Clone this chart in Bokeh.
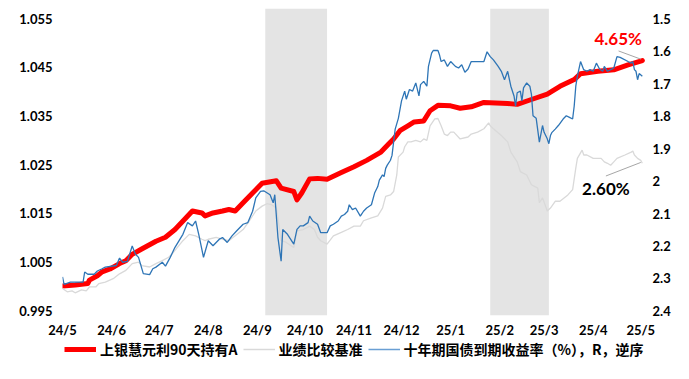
import pandas as pd
from bokeh.plotting import figure
from bokeh.layouts import column
from bokeh.models import (Range1d, LinearAxis, FixedTicker, NumeralTickFormatter,
                          BoxAnnotation, Legend, LegendItem, Label)
from bokeh.embed import file_html
from bokeh.resources import INLINE

# ---------------- data ----------------
series_names = ["上银慧元利90天持有A", "业绩比较基准", "十年期国债到期收益率（%），R，逆序"]

fund_dates = ["2024-05-01", "2024-05-09", "2024-05-17", "2024-05-18", "2024-05-23", "2024-05-26",
              "2024-05-31", "2024-06-06", "2024-06-10", "2024-06-14", "2024-06-20", "2024-06-29",
              "2024-07-05", "2024-07-11", "2024-07-18", "2024-07-22", "2024-07-28", "2024-07-30",
              "2024-08-04", "2024-08-10", "2024-08-14", "2024-08-18", "2024-08-23", "2024-08-29",
              "2024-09-04", "2024-09-13", "2024-09-16", "2024-09-24", "2024-09-26", "2024-09-29",
              "2024-10-04", "2024-10-09", "2024-10-15", "2024-10-24", "2024-11-01", "2024-11-09",
              "2024-11-18", "2024-11-23", "2024-11-26", "2024-11-30", "2024-12-05", "2024-12-09",
              "2024-12-15", "2024-12-19", "2024-12-24", "2025-01-01", "2025-01-07", "2025-01-14",
              "2025-01-22", "2025-02-06", "2025-02-12", "2025-02-21", "2025-03-03", "2025-03-11",
              "2025-03-20", "2025-03-24", "2025-04-04", "2025-04-14", "2025-04-23", "2025-05-02"]
fund_nav = [1.0001, 1.0003, 1.0006, 1.0013, 1.0022, 1.0030,
            1.0036, 1.0047, 1.0053, 1.0066, 1.0077, 1.0093,
            1.0101, 1.0117, 1.0141, 1.0155, 1.0151, 1.0145,
            1.0151, 1.0155, 1.0158, 1.0155, 1.0172, 1.0192,
            1.0212, 1.0217, 1.0202, 1.0195, 1.0178, 1.0192,
            1.0221, 1.0222, 1.0220, 1.0234, 1.0246, 1.0259,
            1.0276, 1.0293, 1.0303, 1.0320, 1.0330, 1.0338,
            1.0340, 1.0361, 1.0372, 1.0371, 1.0366, 1.0369,
            1.0378, 1.0376, 1.0374, 1.0384, 1.0395, 1.0411,
            1.0425, 1.0437, 1.0442, 1.0445, 1.0455, 1.0464]

bench_dates = ["2024-05-01", "2024-05-04", "2024-05-07", "2024-05-09", "2024-05-13", "2024-05-16",
               "2024-05-18", "2024-05-22", "2024-05-24", "2024-05-28", "2024-06-02", "2024-06-06",
               "2024-06-10", "2024-06-14", "2024-06-18", "2024-06-20", "2024-06-25", "2024-06-29",
               "2024-07-03", "2024-07-07", "2024-07-09", "2024-07-11", "2024-07-16", "2024-07-20",
               "2024-07-24", "2024-07-28", "2024-07-30", "2024-08-01", "2024-08-06", "2024-08-10",
               "2024-08-14", "2024-08-18", "2024-08-23", "2024-08-27", "2024-08-31", "2024-09-04",
               "2024-09-07", "2024-09-10", "2024-09-13", "2024-09-14", "2024-09-16", "2024-09-19",
               "2024-09-24", "2024-09-26", "2024-09-30", "2024-10-04", "2024-10-07", "2024-10-09",
               "2024-10-11", "2024-10-15", "2024-10-19", "2024-10-24", "2024-10-28", "2024-11-01",
               "2024-11-05", "2024-11-07", "2024-11-12", "2024-11-16", "2024-11-19", "2024-11-21",
               "2024-11-24", "2024-11-26", "2024-11-28", "2024-11-29", "2024-12-02", "2024-12-03",
               "2024-12-05", "2024-12-07", "2024-12-10", "2024-12-13", "2024-12-15", "2024-12-17",
               "2024-12-19", "2024-12-22", "2024-12-24", "2024-12-26", "2024-12-28", "2024-12-30",
               "2025-01-01", "2025-01-03", "2025-01-07", "2025-01-12", "2025-01-14", "2025-01-18",
               "2025-01-22", "2025-01-25", "2025-01-26", "2025-01-28", "2025-02-02", "2025-02-06",
               "2025-02-08", "2025-02-12", "2025-02-14", "2025-02-18", "2025-02-21", "2025-02-25",
               "2025-02-26", "2025-02-28", "2025-03-03", "2025-03-05", "2025-03-08", "2025-03-11",
               "2025-03-16", "2025-03-19", "2025-03-21", "2025-03-22", "2025-03-25", "2025-03-26",
               "2025-03-28", "2025-04-01", "2025-04-06", "2025-04-08", "2025-04-10", "2025-04-12",
               "2025-04-14", "2025-04-16", "2025-04-21", "2025-04-25", "2025-04-26", "2025-04-27",
               "2025-04-29", "2025-05-01", "2025-05-02"]
bench_vals = [0.9996, 0.9989, 0.9991, 0.9987, 0.9993, 0.9991,
              0.9999, 0.9999, 1.0006, 1.0009, 1.0016, 1.0026,
              1.0033, 1.0047, 1.0050, 1.0043, 1.0040, 1.0047,
              1.0053, 1.0060, 1.0066, 1.0074, 1.0094, 1.0107,
              1.0104, 1.0097, 1.0094, 1.0097, 1.0101, 1.0097,
              1.0094, 1.0104, 1.0117, 1.0135, 1.0155, 1.0165,
              1.0170, 1.0168, 1.0161, 1.0141, 1.0094, 1.0091,
              1.0080, 1.0114, 1.0117, 1.0124, 1.0117, 1.0101,
              1.0094, 1.0087, 1.0104, 1.0111, 1.0117, 1.0124,
              1.0124, 1.0135, 1.0141, 1.0145, 1.0161, 1.0185,
              1.0188, 1.0195, 1.0229, 1.0266, 1.0276, 1.0287,
              1.0297, 1.0297, 1.0300, 1.0297, 1.0303, 1.0300,
              1.0330, 1.0344, 1.0345, 1.0330, 1.0313, 1.0310,
              1.0317, 1.0317, 1.0303, 1.0307, 1.0313, 1.0317,
              1.0324, 1.0336, 1.0330, 1.0324, 1.0310, 1.0297,
              1.0276, 1.0256, 1.0236, 1.0229, 1.0209, 1.0202,
              1.0172, 1.0182, 1.0155, 1.0161, 1.0175, 1.0175,
              1.0188, 1.0199, 1.0243, 1.0263, 1.0280, 1.0270,
              1.0270, 1.0263, 1.0263, 1.0256, 1.0253, 1.0249,
              1.0256, 1.0263, 1.0270, 1.0276, 1.0278, 1.0270,
              1.0263, 1.0259, 1.0253]

bond_dates = ["2024-05-01", "2024-05-02", "2024-05-06", "2024-05-14", "2024-05-15", "2024-05-17",
              "2024-05-21", "2024-05-23", "2024-05-26", "2024-05-28", "2024-06-04", "2024-06-06",
              "2024-06-08", "2024-06-11", "2024-06-14", "2024-06-16", "2024-06-18", "2024-06-21",
              "2024-06-25", "2024-06-27", "2024-06-29", "2024-07-03", "2024-07-05", "2024-07-08",
              "2024-07-11", "2024-07-16", "2024-07-19", "2024-07-22", "2024-07-24", "2024-07-26",
              "2024-07-29", "2024-08-01", "2024-08-04", "2024-08-08", "2024-08-10", "2024-08-13",
              "2024-08-16", "2024-08-19", "2024-08-23", "2024-08-26", "2024-08-29", "2024-08-31",
              "2024-09-03", "2024-09-05", "2024-09-09", "2024-09-11", "2024-09-12", "2024-09-14",
              "2024-09-16", "2024-09-17", "2024-09-20", "2024-09-24", "2024-09-26", "2024-09-28",
              "2024-09-30", "2024-10-03", "2024-10-04", "2024-10-06", "2024-10-09", "2024-10-11",
              "2024-10-15", "2024-10-17", "2024-10-19", "2024-10-22", "2024-10-24", "2024-10-26",
              "2024-10-28", "2024-10-29", "2024-10-31", "2024-11-02", "2024-11-05", "2024-11-07",
              "2024-11-09", "2024-11-12", "2024-11-14", "2024-11-16", "2024-11-17", "2024-11-19",
              "2024-11-20", "2024-11-21", "2024-11-22", "2024-11-24", "2024-11-25", "2024-11-26",
              "2024-11-27", "2024-11-29", "2024-12-01", "2024-12-03", "2024-12-04", "2024-12-06",
              "2024-12-08", "2024-12-10", "2024-12-12", "2024-12-13", "2024-12-15", "2024-12-17",
              "2024-12-18", "2024-12-20", "2024-12-21", "2024-12-24", "2024-12-25", "2024-12-26",
              "2024-12-28", "2024-12-30", "2025-01-01", "2025-01-04", "2025-01-06", "2025-01-08",
              "2025-01-10", "2025-01-12", "2025-01-14", "2025-01-18", "2025-01-22", "2025-01-24",
              "2025-01-26", "2025-01-28", "2025-01-31", "2025-02-02", "2025-02-04", "2025-02-06",
              "2025-02-08", "2025-02-10", "2025-02-11", "2025-02-12", "2025-02-14", "2025-02-15",
              "2025-02-16", "2025-02-18", "2025-02-20", "2025-02-21", "2025-02-22", "2025-02-24",
              "2025-02-26", "2025-02-28", "2025-03-01", "2025-03-03", "2025-03-04", "2025-03-05",
              "2025-03-06", "2025-03-08", "2025-03-10", "2025-03-13", "2025-03-15", "2025-03-17",
              "2025-03-19", "2025-03-20", "2025-03-21", "2025-03-22", "2025-03-24", "2025-03-26",
              "2025-03-28", "2025-03-30", "2025-04-01", "2025-04-03", "2025-04-05", "2025-04-07",
              "2025-04-08", "2025-04-10", "2025-04-12", "2025-04-14", "2025-04-16", "2025-04-18",
              "2025-04-23", "2025-04-25", "2025-04-26", "2025-04-27", "2025-04-28", "2025-04-29",
              "2025-04-30", "2025-05-02"]
bond_yield = [2.295, 2.318, 2.311, 2.311, 2.280, 2.287,
              2.287, 2.277, 2.270, 2.265, 2.260, 2.237,
              2.250, 2.247, 2.200, 2.225, 2.235, 2.285,
              2.288, 2.270, 2.265, 2.250, 2.262, 2.235,
              2.204, 2.164, 2.128, 2.138, 2.123, 2.164,
              2.235, 2.184, 2.199, 2.179, 2.174, 2.189,
              2.169, 2.153, 2.133, 2.128, 2.093, 2.052,
              2.032, 2.030, 2.042, 2.067, 2.042, 2.174,
              2.247, 2.149, 2.164, 2.194, 2.149, 2.138,
              2.138, 2.128, 2.108, 2.123, 2.133, 2.159,
              2.159, 2.138, 2.133, 2.123, 2.108, 2.103,
              2.093, 2.073, 2.088, 2.083, 2.108, 2.093,
              2.083, 2.073, 2.037, 2.017, 1.997, 1.981,
              1.986, 1.961, 1.951, 1.936, 1.921, 1.880,
              1.840, 1.807, 1.753, 1.723, 1.748, 1.718,
              1.723, 1.698, 1.738, 1.703, 1.693, 1.708,
              1.647, 1.606, 1.598, 1.598, 1.612, 1.632,
              1.627, 1.647, 1.632, 1.647, 1.652, 1.642,
              1.665, 1.655, 1.632, 1.632, 1.632, 1.602,
              1.617, 1.627, 1.647, 1.662, 1.688, 1.662,
              1.708, 1.738, 1.769, 1.728, 1.723, 1.753,
              1.713, 1.698, 1.708, 1.733, 1.799, 1.807,
              1.880, 1.829, 1.850, 1.870, 1.885, 1.860,
              1.850, 1.840, 1.829, 1.809, 1.799, 1.804,
              1.809, 1.769, 1.708, 1.677, 1.632, 1.657,
              1.662, 1.657, 1.662, 1.637, 1.655, 1.662,
              1.647, 1.662, 1.657, 1.652, 1.617, 1.619,
              1.632, 1.637, 1.632, 1.657, 1.662, 1.688,
              1.669, 1.677]

month_ticks = ["2024-05-01", "2024-06-01", "2024-07-01", "2024-08-01", "2024-09-01", "2024-10-01",
               "2024-11-01", "2024-12-01", "2025-01-01", "2025-02-01", "2025-03-01", "2025-04-01",
               "2025-05-01"]
month_labels = ["24/5", "24/6", "24/7", "24/8", "24/9", "24/10", "24/11", "24/12",
                "25/1", "25/2", "25/3", "25/4", "25/5"]
left_ticks = [0.995, 1.005, 1.015, 1.025, 1.035, 1.045, 1.055]
right_ticks = [1.5, 1.6, 1.7, 1.8, 1.9, 2.0, 2.1, 2.2, 2.3, 2.4]
shade_periods = [("2024-09-06", "2024-10-15"), ("2025-01-26", "2025-03-04")]
end_labels = ["4.65%", "2.60%"]

# ---------------- styles ----------------
ts = pd.Timestamp
FONT = "Lato"
CJK = "Noto Sans CJK SC"
RED, GREY, BLUE = "#FF0000", "#D9D9D9", "#2E75B6"

# ---------------- main chart ----------------
p = figure(width=681, height=340, x_axis_type="datetime",
           x_range=Range1d(ts("2024-05-01"), ts("2025-05-04")),
           y_range=Range1d(0.99404, 1.05709),
           output_backend="svg", toolbar_location=None,
           min_border_left=62, min_border_right=36, min_border_top=8, min_border_bottom=21)
p.extra_y_ranges = {"r": Range1d(start=2.4140, end=1.4687)}

p.xgrid.visible = False
p.ygrid.visible = False
p.outline_line_color = None
p.background_fill_color = "white"

for s, e in shade_periods:
    p.add_layout(BoxAnnotation(left=ts(s), right=ts(e), fill_color="#E4E4E4",
                               fill_alpha=1.0, line_color=None, level="underlay"))

p.line(pd.to_datetime(fund_dates), fund_nav, line_color=RED, line_width=5,
       line_join="round", line_cap="round")
p.line(pd.to_datetime(bench_dates), bench_vals, line_color=GREY, line_width=1.3)
p.line(pd.to_datetime(bond_dates), bond_yield, line_color=BLUE, line_width=1.3,
       y_range_name="r")

tick_ms = [ts(d).value // 10**6 for d in month_ticks]
xa = p.xaxis[0]
xa.ticker = FixedTicker(ticks=tick_ms)
xa.major_label_overrides = {float(t): lab for t, lab in zip(tick_ms, month_labels)}
xa.major_label_standoff = 6

ya = p.yaxis[0]
ya.ticker = FixedTicker(ticks=left_ticks)
ya.formatter = NumeralTickFormatter(format="0.000")
ya.major_label_standoff = 10

ra = LinearAxis(y_range_name="r", ticker=FixedTicker(ticks=right_ticks),
                formatter=NumeralTickFormatter(format="0.[0]"))
ra.major_label_standoff = 7
p.add_layout(ra, "right")

for ax in (xa, ya, ra):
    ax.axis_line_color = None
    ax.major_tick_line_color = None
    ax.minor_tick_line_color = None
    ax.major_tick_out = 0
    ax.major_tick_in = 0
    ax.major_label_text_font = FONT
    ax.major_label_text_font_style = "bold"
    ax.major_label_text_font_size = "13px"
    ax.major_label_text_color = "#000000"

p.segment(x0=[ts("2025-04-17"), ts("2025-04-09")], y0=[1.04837, 1.02269],
          x1=[ts("2025-05-01"), ts("2025-05-01")], y1=[1.04669, 1.02547],
          line_color="#A6A6A6", line_width=1)
p.add_layout(Label(x=ts("2025-04-16 18:00"), y=1.0509, text=end_labels[0],
                   text_color=RED, text_font=FONT, text_font_style="bold",
                   text_font_size="17px", text_align="center", text_baseline="middle"))
p.add_layout(Label(x=ts("2025-04-09"), y=1.0202, text=end_labels[1],
                   text_color="#000000", text_font=FONT, text_font_style="bold",
                   text_font_size="17px", text_align="center", text_baseline="middle"))

# ---------------- legend strip (frame aligned with the chart above) ----------------
lg = figure(width=681, height=31, output_backend="svg", toolbar_location=None,
            x_axis_location=None, y_axis_location=None,
            x_range=Range1d(0, 1), y_range=Range1d(0, 1),
            min_border_left=0, min_border_right=0, min_border_top=0, min_border_bottom=0)
lg.outline_line_color = None
lg.xgrid.visible = False
lg.ygrid.visible = False
k_red = lg.line(x=[5, 6], y=[5, 6], line_color=RED, line_width=5)
k_grey = lg.line(x=[5, 6], y=[5, 6], line_color=GREY, line_width=1.5)
k_blue = lg.line(x=[5, 6], y=[5, 6], line_color="#6A9FD4", line_width=1.5)

legend = Legend(items=[LegendItem(label=series_names[0], renderers=[k_red]),
                       LegendItem(label=series_names[1], renderers=[k_grey]),
                       LegendItem(label=series_names[2], renderers=[k_blue])],
                orientation="horizontal", location=(2, 12), padding=0, margin=0,
                spacing=5, glyph_width=32, glyph_height=14, label_height=14,
                label_standoff=4, label_text_font=CJK, label_text_font_style="bold",
                label_text_font_size="14px", label_text_color="#000000",
                background_fill_alpha=0, border_line_color=None)
lg.add_layout(legend, "center")

open("out.html", "w").write(file_html(column(p, lg, spacing=0), INLINE))
